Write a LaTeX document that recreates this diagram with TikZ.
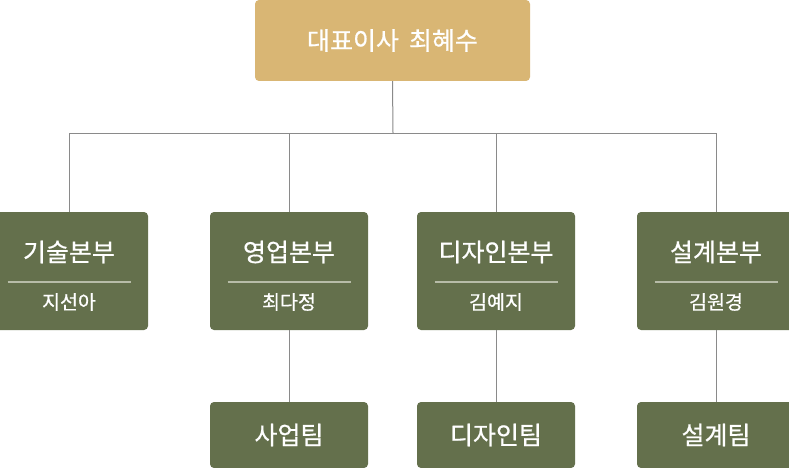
\documentclass[tikz,border=0pt]{standalone}
\usepackage{fontspec}
\setmainfont{Noto Sans CJK KR}[FakeBold=0.6]
\definecolor{tan}{HTML}{D9B674}
\definecolor{olive}{HTML}{64704C}
\definecolor{conn}{HTML}{8A8A8A}
\definecolor{divl}{HTML}{B7BCA8}
\tikzset{
  ceo/.style={fill=tan, rounded corners=4pt, minimum width=275pt, minimum height=81pt, inner sep=0pt, text=white, font=\fontsize{25}{25}\selectfont},
  dept/.style={fill=olive, rounded corners=4pt, minimum width=158pt, minimum height=118pt, inner sep=0pt},
  team/.style={fill=olive, rounded corners=4pt, minimum width=158pt, minimum height=66pt, inner sep=0pt, text=white, font=\fontsize{25}{25}\selectfont},
  dtitle/.style={text=white, font=\fontsize{25}{25}\selectfont, inner sep=0pt},
  dname/.style={text=white, font=\fontsize{19.5}{19.5}\selectfont, inner sep=0pt},
  link/.style={draw=conn, line width=1pt},
  divider/.style={draw=divl, line width=1.5pt}
}
\begin{document}
\begin{tikzpicture}[x=1pt,y=1pt]
\useasboundingbox (0,0) rectangle (789,-468);
\fill[white] (0,0) rectangle (789,-468);
% top
\node[ceo] (ceo) at (392.5,-40.5) {대표이사\hspace{0.4em}최혜수};
\coordinate (bus) at (393,-133);
% departments
\foreach \n/\x/\t/\p in {d1/69/기술본부/지선아, d2/289/영업본부/최다정, d3/496/디자인본부/김예지, d4/716/설계본부/김원경}{
  \node[dept] (\n) at (\x,-271) {};
  \node[dtitle] (\n t) at (\x,-252) {\t};
  \node[dname] (\n p) at (\x,-302) {\p};
  \draw[divider] ([xshift=-61.5pt]\n.center |- 0,-282) coordinate (\n a) -- ([xshift=61.5pt]\n.center |- 0,-282) coordinate (\n b);
  \coordinate (\n j) at (\x,-133);
}
% teams
\node[team] (t2) at (289,-435) {사업팀};
\node[team] (t3) at (496,-435) {디자인팀};
\node[team] (t4) at (716,-435) {설계팀};
% connectors
\draw[link] (ceo.south) -- (bus);
\draw[link] (d1j) -- (d4j);
\foreach \n in {d1,d2,d3,d4}{ \draw[link] (\n j) -- (\n.north); }
\draw[link] (d2.south) -- (t2.north);
\draw[link] (d3.south) -- (t3.north);
\draw[link] (d4.south) -- (t4.north);
\end{tikzpicture}
\end{document}
